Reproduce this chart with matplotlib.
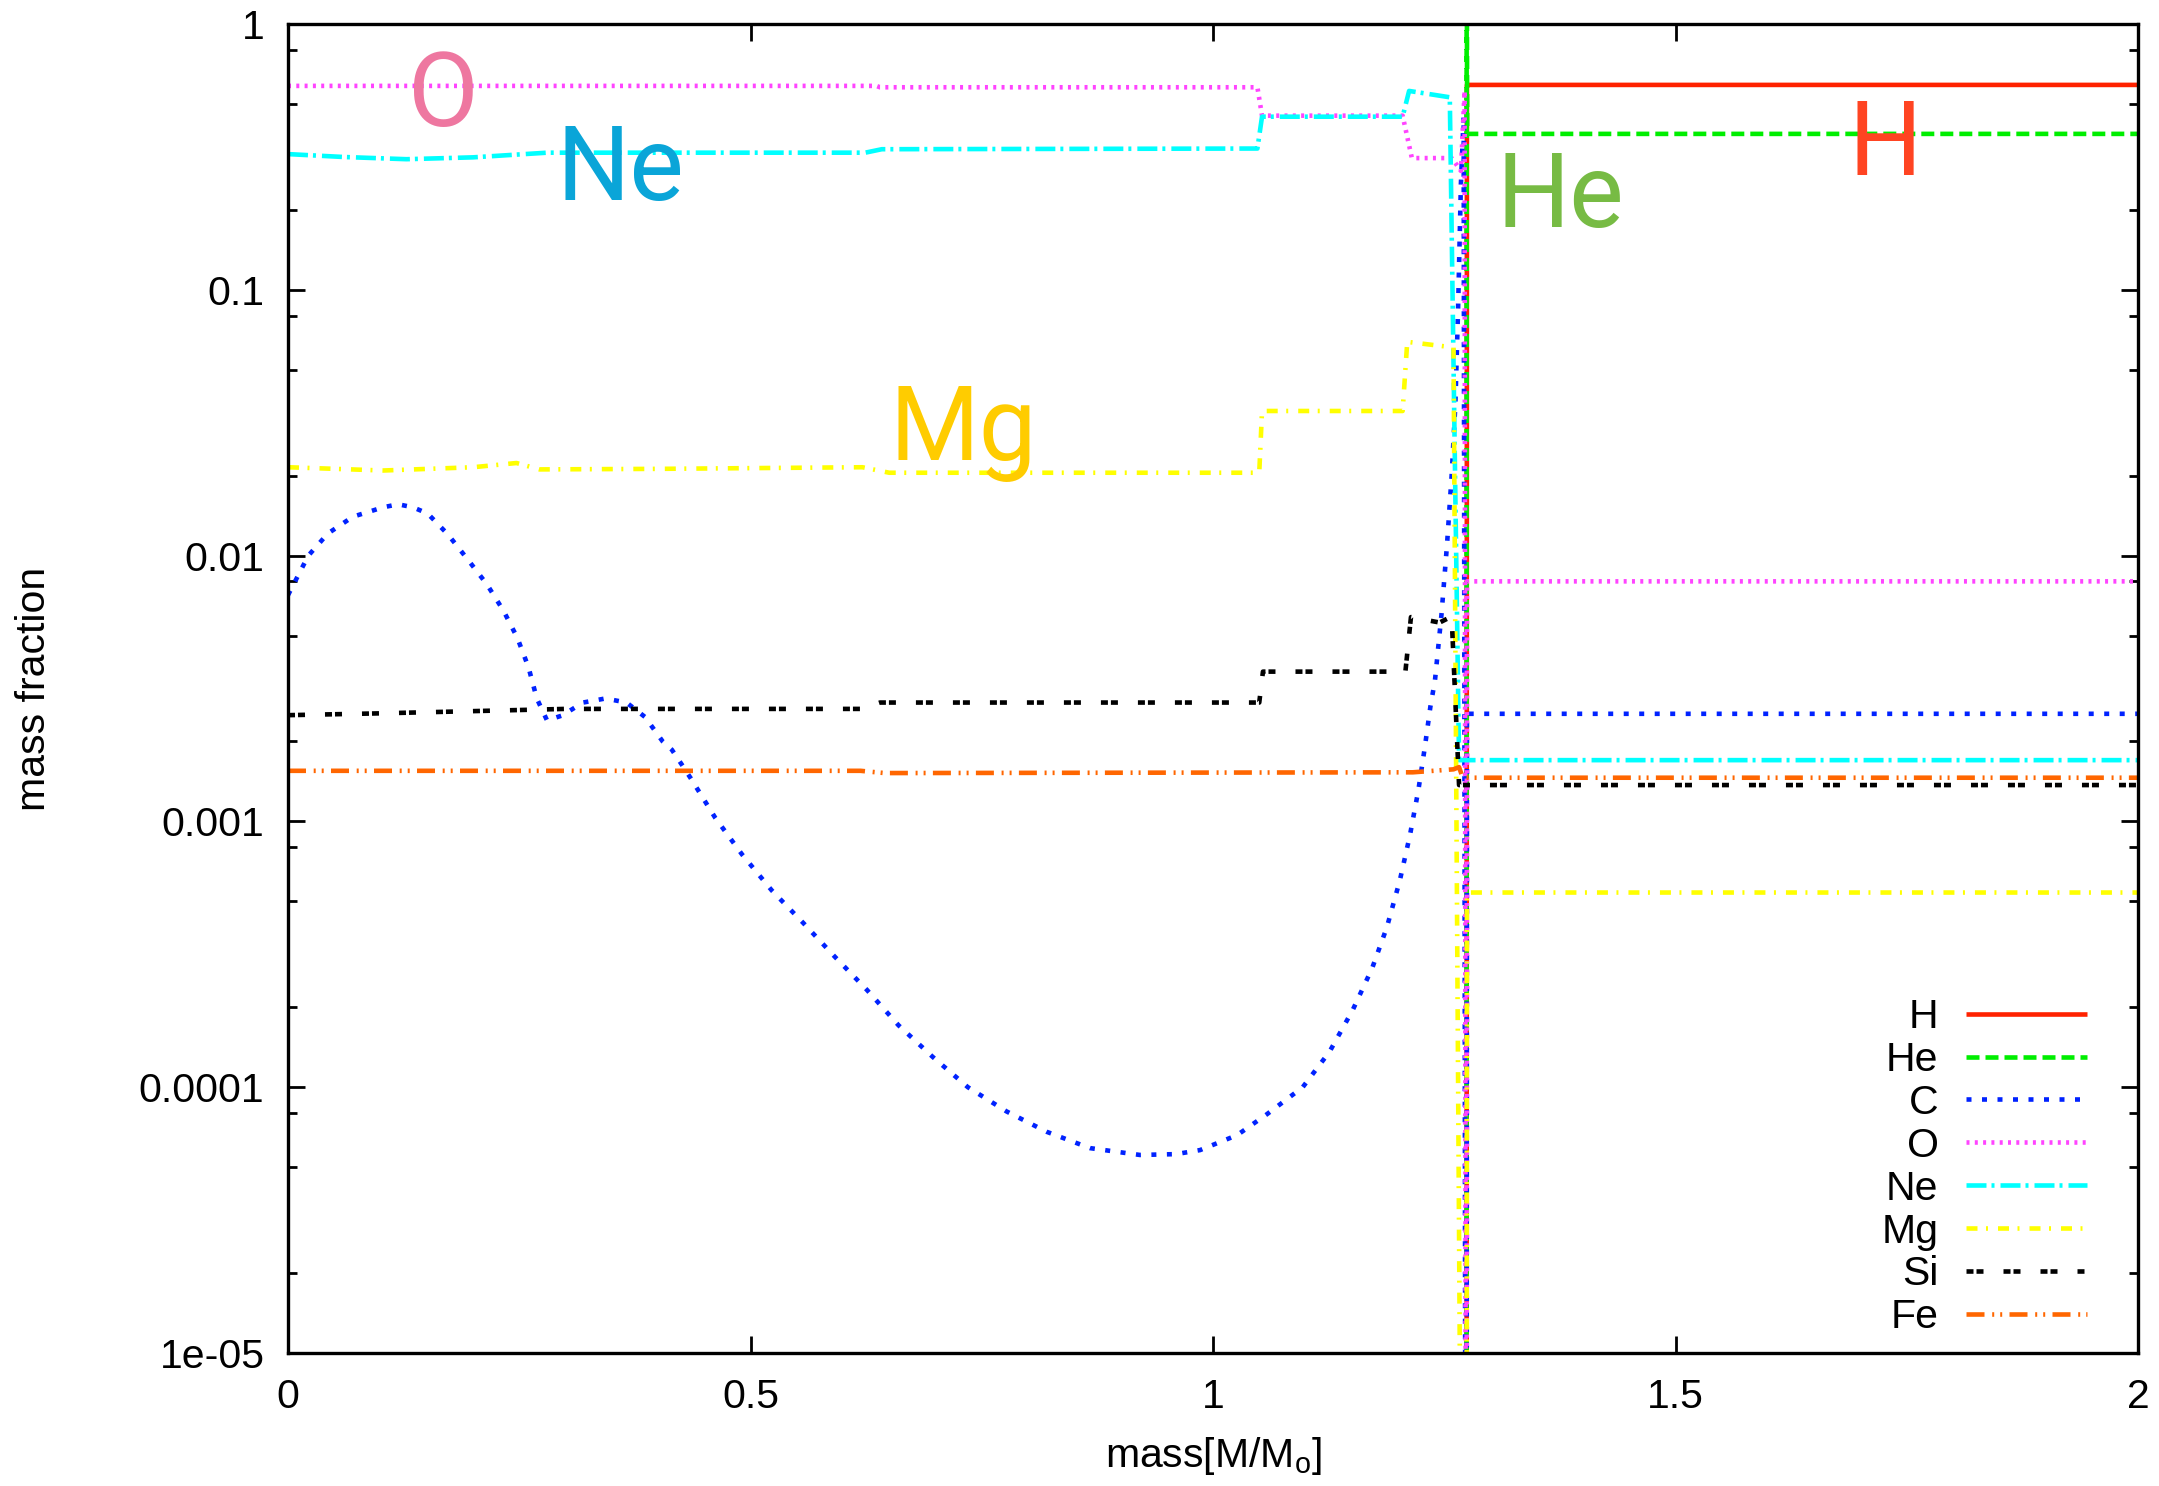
import numpy as np
import matplotlib
matplotlib.use('Agg')
import matplotlib.pyplot as plt

plt.rcParams['font.family'] = ['Liberation Sans', 'DejaVu Sans']
plt.rcParams['mathtext.fontset'] = 'custom'
plt.rcParams['mathtext.rm'] = 'Liberation Sans'
plt.rcParams['mathtext.it'] = 'Liberation Sans'
plt.rcParams['lines.scale_dashes'] = False

# values (mass coordinate, mass fraction)
tiny = 1e-9  # below the axis, gives the drop at the core edge

h_x = [1.274, 1.2745, 2.0]
h_y = [tiny, 0.59, 0.59]

he_x = [1.274, 1.2742, 1.2748, 2.0]
he_y = [tiny, 3.0, 0.386, 0.386]

c_x = [0, 0.022, 0.043, 0.070, 0.103, 0.119, 0.135, 0.151, 0.173, 0.195, 0.215,
       0.233, 0.248, 0.260, 0.269, 0.280, 0.296, 0.319, 0.343, 0.366, 0.386, 0.405,
       0.415, 0.426, 0.435, 0.462, 0.491, 0.523, 0.557, 0.591, 0.626, 0.660, 0.697,
       0.735, 0.777, 0.820, 0.867, 0.921, 0.960, 0.986, 1.026, 1.058, 1.097, 1.126,
       1.151, 1.172, 1.188, 1.202, 1.213, 1.222, 1.229, 1.235, 1.240, 1.247, 1.253,
       1.258, 1.262, 1.265, 1.268, 1.271, 1.274, 1.2745, 2.0]
c_y = [0.0071, 0.0100, 0.0121, 0.0140, 0.0152, 0.0156, 0.0152, 0.0144, 0.0120, 0.0096, 0.0078,
       0.0062, 0.0049, 0.0038, 0.0029, 0.0024, 0.0025, 0.0028, 0.0029, 0.0028, 0.00247, 0.0020,
       0.00186, 0.00163, 0.00146, 0.00103, 0.00075, 0.00055, 0.000415, 0.00031, 0.000232, 0.000171, 0.00013,
       0.0001, 8.1e-5, 6.8e-5, 5.9e-5, 5.56e-5, 5.6e-5, 5.8e-5, 6.6e-5, 7.9e-5, 1.0e-4, 1.36e-4,
       1.95e-4, 2.8e-4, 4.0e-4, 6.0e-4, 8.9e-4, 1.31e-3, 1.9e-3, 2.7e-3, 3.4e-3, 6e-3, 0.011,
       0.020, 0.037, 0.086, 0.25, 0.45, tiny, 0.00254, 0.00254]

o_x = [0, 0.636, 0.64, 1.048, 1.053, 1.205, 1.215, 1.258, 1.262, 1.268, 1.272, 1.274, 1.2745, 2.0]
o_y = [0.585, 0.585, 0.578, 0.578, 0.452, 0.452, 0.313, 0.313, 0.30, 0.28, 0.56, tiny, 0.008, 0.008]

ne_x = [0, 0.06, 0.128, 0.2, 0.28, 0.624, 0.642, 1.048, 1.053, 1.205, 1.212, 1.256, 1.266, 2.0]
ne_y = [0.324, 0.316, 0.31, 0.315, 0.328, 0.328, 0.338, 0.340, 0.448, 0.448, 0.56, 0.53, 0.0017, 0.0017]

mg_x = [0, 0.103, 0.2, 0.247, 0.272, 0.4, 0.621, 0.65, 1.05, 1.053, 1.205, 1.21, 1.26, 1.274, 1.2745, 2.0]
mg_y = [0.0215, 0.0209, 0.0215, 0.0223, 0.0211, 0.0212, 0.0215, 0.0205, 0.0205, 0.035, 0.035,
        0.0637, 0.0607, tiny, 0.00054, 0.00054]

si_x = [0, 0.1, 0.3, 0.619, 0.64, 1.05, 1.054, 1.208, 1.214, 1.245, 1.258, 1.266, 2.0]
si_y = [0.00251, 0.00255, 0.00265, 0.00265, 0.0028, 0.0028, 0.00366, 0.00366, 0.00587, 0.0056,
        0.0059, 0.00137, 0.00137]

fe_x = [0, 0.619, 0.645, 1.216, 1.26, 1.266, 1.27, 2.0]
fe_y = [0.00155, 0.00155, 0.00152, 0.00153, 0.00157, 0.0016, 0.00146, 0.00146]

names = ['H', 'He', 'C', 'O', 'Ne', 'Mg', 'Si', 'Fe']
colors = ['#ff2200', '#00ee00', '#0022ff', '#ff44ff', '#00ffff', '#ffff00', '#000000', '#ff6600']
px = 0.72  # pixel -> point at dpi 100
dashes = [None, (13, 6), (5, 10.5), (3, 5.3), (20, 5, 3, 6), (11, 8.5, 2, 10),
          (7, 3, 7, 20), (18, 7.7, 2, 6, 2, 7.3)]
xs = [h_x, he_x, c_x, o_x, ne_x, mg_x, si_x, fe_x]
ys = [h_y, he_y, c_y, o_y, ne_y, mg_y, si_y, fe_y]

xticks = [0, 0.5, 1, 1.5, 2]
xtick_labels = ['0', '0.5', '1', '1.5', '2']
yticks = [1e-5, 1e-4, 1e-3, 1e-2, 1e-1, 1]
ytick_labels = ['1e-05', '0.0001', '0.001', '0.01', '0.1', '1']

big_labels = ['O', 'Ne', 'Mg', 'He', 'H']
big_x = [0.168, 0.359, 0.730, 1.376, 1.727]
big_y = [0.413, 0.218, 0.0229, 0.172, 0.270]
big_colors = ['#ee77a0', '#0aa5d8', '#ffcc00', '#77bb44', '#ff4422']

fs = 29.5

fig = plt.figure(figsize=(21.59, 14.86), dpi=100)
ax = fig.add_axes([288/2159, 1-1353/1486, 1850/2159, 1329/1486])

lw = 4.6*px
for x, y, n, c, d in zip(xs, ys, names, colors, dashes):
    line, = ax.plot(x, y, color=c, lw=lw, label=n, solid_capstyle='butt', dash_capstyle='butt')
    if d is not None:
        line.set_dashes([v*px for v in d])

for t, x, y, c in zip(big_labels, big_x, big_y, big_colors):
    ax.text(x, y, t, color=c, fontsize=74, family=['Roboto', 'DejaVu Sans'],
            ha='center', va='baseline')

ax.set_yscale('log')
ax.set_xlim(0, 2)
ax.set_ylim(1e-5, 1)
ax.set_xticks(xticks, xtick_labels)
ax.set_yticks(yticks, ytick_labels)
minor = [m*10.0**e for e in range(-5, 0) for m in (2, 5, 8)]
ax.set_yticks(minor, ['']*len(minor), minor=True)
ax.xaxis.set_minor_locator(matplotlib.ticker.NullLocator())
ax.tick_params(which='both', direction='in', top=True, right=True, labelsize=fs, width=2)
ax.tick_params(which='major', length=12.2)
ax.tick_params(which='minor', length=6.5)
ax.tick_params(axis='y', pad=17)
ax.tick_params(axis='x', pad=18)
for s in ax.spines.values():
    s.set_linewidth(2.4)

ax.set_xlabel(r'mass[M/M$_\mathrm{o}$]', fontsize=fs)
ax.set_ylabel('mass fraction', fontsize=fs)
ax.xaxis.set_label_coords(0.5, -0.062)
ax.yaxis.set_label_coords(-0.127, 0.5)

# with markerfirst=False the rows are right aligned, labels end next to the samples
ax.legend(loc='lower right', bbox_to_anchor=(0.9724, 0.0125), frameon=False,
          markerfirst=False, handlelength=2.95, handletextpad=0.67,
          labelspacing=0.12, borderpad=0, borderaxespad=0, fontsize=fs)

fig.savefig('out.png', dpi=100)
